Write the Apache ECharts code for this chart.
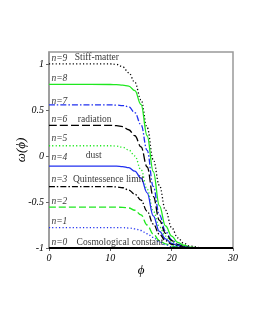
<!DOCTYPE html>
<html>
<head>
<meta charset="utf-8">
<script src="https://cdn.jsdelivr.net/npm/echarts@6/dist/echarts.min.js"></script>
<style>html,body{margin:0;padding:0;background:#fff;}#c{width:255px;height:330px;}</style>
</head>
<body>
<div id="c"></div>
<script>
var phi = [0, 10, 11, 12, 13, 14, 15, 16, 17, 18, 19, 20, 21, 22, 23, 25, 30];
var w9 = [1, 1, 0.995, 0.97, 0.905, 0.80, 0.61, 0.31, -0.04, -0.32, -0.59, -0.78, -0.89, -0.95, -0.98, -1, -1];
var w8 = [0.778, 0.777, 0.775, 0.77, 0.76, 0.71, 0.56, 0.22, -0.17, -0.54, -0.76, -0.87, -0.94, -0.97, -0.99, -1, -1];
var w7 = [0.556, 0.555, 0.553, 0.548, 0.535, 0.47, 0.34, 0.06, -0.33, -0.64, -0.82, -0.91, -0.96, -0.985, -0.995, -1, -1];
var w6 = [0.333, 0.332, 0.33, 0.32, 0.285, 0.22, 0.10, -0.12, -0.44, -0.70, -0.84, -0.92, -0.965, -0.985, -0.995, -1, -1];
var w5 = [0.111, 0.111, 0.108, 0.095, 0.065, 0.0, -0.15, -0.36, -0.60, -0.77, -0.87, -0.93, -0.97, -0.99, -0.995, -1, -1];
var w4 = [-0.111, -0.111, -0.111, -0.115, -0.127, -0.165, -0.24, -0.40, -0.65, -0.82, -0.90, -0.95, -0.975, -0.99, -0.995, -1, -1];
var w3 = [-0.333, -0.333, -0.336, -0.345, -0.37, -0.415, -0.48, -0.60, -0.74, -0.85, -0.92, -0.96, -0.98, -0.99, -0.995, -1, -1];
var w2 = [-0.556, -0.556, -0.556, -0.558, -0.565, -0.59, -0.64, -0.75, -0.85, -0.92, -0.955, -0.98, -0.99, -0.997, -1, -1, -1];
var w1 = [-0.778, -0.778, -0.778, -0.779, -0.783, -0.792, -0.81, -0.845, -0.885, -0.935, -0.965, -0.985, -0.993, -0.997, -1, -1, -1];
var w0 = [-1, -1, -1, -1, -1, -1, -1, -1, -1, -1, -1, -1, -1, -1, -1, -1, -1];

var xTicks = [0, 10, 20, 30];
var yTicks = [-1, -0.5, 0, 0.5, 1];

var nLabels = ['n=9', 'n=8', 'n=7', 'n=6', 'n=5', 'n=4', 'n=3', 'n=2', 'n=1', 'n=0'];
var nLabelOmega = [1.06, 0.845, 0.59, 0.40, 0.19, -0.016, -0.26, -0.50, -0.71, -0.94];
var nLabelPhi = 0.4;
var caseNames = ['Stiff-matter', 'radiation', 'dust', 'Quintessence limit', 'Cosmological constant'];
var casePhi = [4.2, 4.7, 6.0, 3.9, 4.5];
var caseOmega = [1.065, 0.40, 0.01, -0.26, -0.935];

function pairs(ys) { return phi.map(function (p, i) { return [p, ys[i]]; }); }

var GREEN = '#1fe81f', BLUE = '#2030f0', BLACK = '#000';
var defs = [
  [w9, BLACK, [1.2, 2.2], 1.3],
  [w8, GREEN, 'solid', 1.3],
  [w7, BLUE, [6, 2, 1.5, 2], 1.3],
  [w6, BLACK, [8, 3], 1.3],
  [w5, GREEN, [1.2, 2.2], 1.3],
  [w4, BLUE, 'solid', 1.3],
  [w3, BLACK, [6, 2, 1.5, 2], 1.3],
  [w2, GREEN, [7, 3], 1.3],
  [w1, BLUE, [1.2, 2.2], 1.3],
  [w0, BLACK, 'solid', 2.2]
];
var series = defs.map(function (d) {
  return {
    type: 'line', data: pairs(d[0]), showSymbol: false, smooth: 0.4, smoothMonotone: 'x',
    lineStyle: { color: d[1], type: d[2], width: d[3] }, z: 3, silent: true
  };
});
var FONT = '"Liberation Serif", "DejaVu Serif", serif';
series.push({
  type: 'scatter', symbolSize: 0, silent: true, z: 5,
  data: nLabels.map(function (t, i) { return { value: [nLabelPhi, nLabelOmega[i]], name: t }; }),
  label: { show: true, position: 'right', distance: 0, formatter: '{b}', color: '#000',
    fontFamily: FONT, fontStyle: 'italic', fontSize: 9.5 }
});
series.push({
  type: 'scatter', symbolSize: 0, silent: true, z: 5,
  data: caseNames.map(function (t, i) { return { value: [casePhi[i], caseOmega[i]], name: t }; }),
  label: { show: true, position: 'right', distance: 0, formatter: '{b}', color: '#000',
    fontFamily: FONT, fontSize: 9.5 }
});

var chart = echarts.init(document.getElementById('c'), null, { renderer: 'canvas' });
chart.setOption({
  animation: false,
  backgroundColor: '#fff',
  grid: { left: 49, right: 22, top: 52, bottom: 82, show: true, borderColor: '#999', borderWidth: 1.5,
    containLabel: false, outerBoundsMode: 'none' },
  xAxis: {
    type: 'value', min: 0, max: 30, interval: 10,
    name: 'ϕ', nameLocation: 'middle', nameGap: 16, nameMoveOverlap: false,
    nameTextStyle: { fontFamily: FONT, fontStyle: 'italic', fontSize: 13, color: '#000' },
    axisLine: { show: true, onZero: false, lineStyle: { color: '#000', width: 1 } },
    axisTick: { show: true, inside: false, length: 3, lineStyle: { color: '#666' } },
    axisLabel: { margin: 5, fontFamily: FONT, fontStyle: 'italic', fontSize: 10, color: '#000',
      formatter: function (v) { return xTicks.indexOf(v) >= 0 ? String(v) : ''; } },
    splitLine: { show: false }
  },
  yAxis: {
    type: 'value', min: -1, max: 1.13, interval: 0.5,
    name: 'ω(ϕ)', nameLocation: 'middle', nameGap: 21, nameRotate: 90, nameMoveOverlap: false,
    nameTextStyle: { fontFamily: FONT, fontStyle: 'italic', fontSize: 13, color: '#000' },
    axisLine: { show: true, onZero: false, lineStyle: { color: '#999', width: 1.5 } },
    axisTick: { show: true, inside: false, length: 3, lineStyle: { color: '#666' } },
    axisLabel: { margin: 5, showMaxLabel: false, fontFamily: FONT, fontStyle: 'italic', fontSize: 10, color: '#000',
      formatter: function (v) { return yTicks.indexOf(v) >= 0 ? String(v) : ''; } },
    splitLine: { show: false }
  },
  series: series
});
</script>
</body>
</html>
